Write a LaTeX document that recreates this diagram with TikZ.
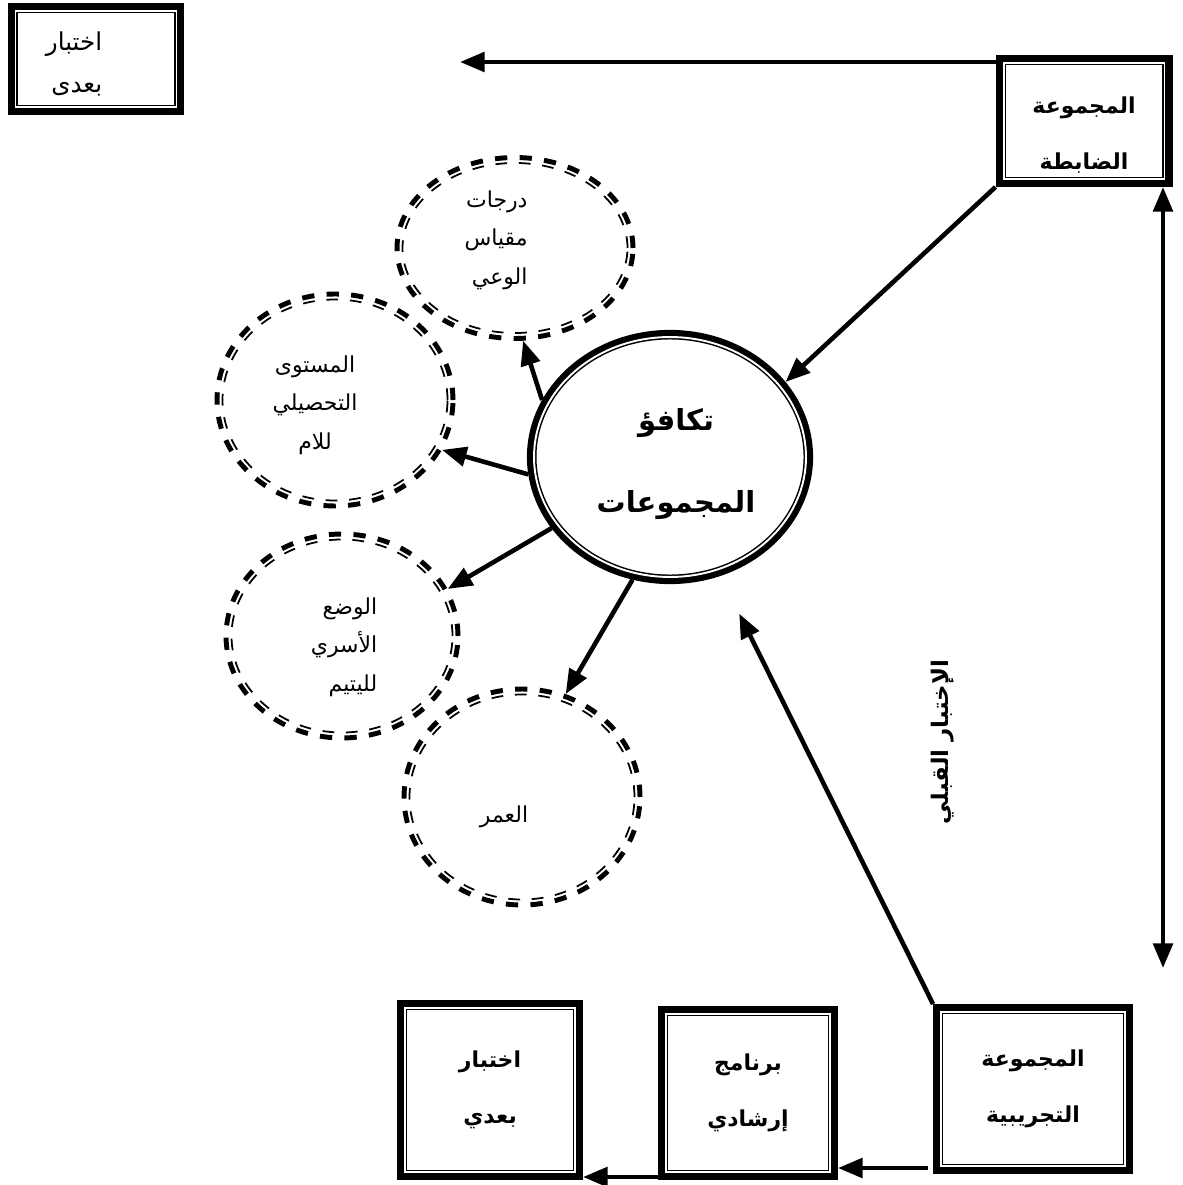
\documentclass[tikz,border=0pt]{standalone}
\usepackage{fontspec}
\usepackage{tikz}
\usetikzlibrary{positioning, arrows.meta, shapes.geometric}
\newfontfamily\arabicfont[Script=Arabic]{DejaVu Sans}
\TeXXeTstate=1
\newcommand{\rtltext}[1]{\beginR #1\endR}

\begin{document}
\begin{tikzpicture}[x=0.02cm, y=-0.02cm,
    box/.style={rectangle, draw, fill=white, double, double distance=1.1pt, line width=0.85pt,
        preaction={draw, line width=9.1pt}, outer sep=4.55pt, align=center, boxtext},
    boxtext/.style={font=\arabicfont\bfseries\fontsize{12.5pt}{32pt}\selectfont},
    hub/.style={ellipse, draw, fill=white, double, double distance=1.1pt, line width=0.85pt,
        preaction={draw, line width=8.1pt}, outer sep=4.05pt},
    hubtext/.style={font=\arabicfont\bfseries\fontsize{16.5pt}{47pt}\selectfont},
    ring/.style={ellipse, draw, line width=2.8pt, dash pattern=on 7pt off 7pt},
    ringtext/.style={font=\arabicfont\fontsize{12.5pt}{22pt}\selectfont},
    arr/.style={line width=2.6pt, -{Triangle[length=14pt, width=11pt]}},
    darr/.style={line width=2.6pt, {Triangle[length=14pt, width=11pt]}-{Triangle[length=14pt, width=11pt]}}
]
\useasboundingbox (0,0) rectangle (1182,1185);

% dashed circles
\node[ring, minimum width=4.72cm, minimum height=3.62cm,
    label={[ringtext, align=right, xshift=-0.38cm, yshift=0.16cm]center:{\rtltext{درجات}\\ \rtltext{مقياس}\\ \rtltext{الوعي}}}] (scale) at (515,248) {};
\node[ring, minimum width=4.72cm, minimum height=4.24cm,
    label={[ringtext, align=center, xshift=-0.4cm, yshift=-0.1cm]center:{\rtltext{المستوى}\\ \rtltext{التحصيلي}\\ \rtltext{للام}}}] (edu) at (335,400) {};
\node[ring, minimum width=4.64cm, minimum height=4.08cm,
    label={[ringtext, align=right, xshift=0.04cm, yshift=-0.22cm]center:{\rtltext{الوضع}\\ \rtltext{الأسري}\\ \rtltext{لليتيم}}}] (family) at (342,636) {};
\node[ring, minimum width=4.72cm, minimum height=4.32cm,
    label={[ringtext, xshift=-0.36cm, yshift=-0.4cm]center:{\rtltext{العمر}}}] (age) at (522,797) {};

\foreach \n/\rx/\ry in {scale/120/92.5, edu/120/108, family/118/104, age/120/110}{
    \pgfmathsetmacro\irx{(\rx-7.5)*0.02}
    \pgfmathsetmacro\iry{(\ry-7.5)*0.02}
    \pgfmathsetmacro\dscale{(\rx+\ry-15)/(\rx+\ry-4.8)}
    \pgfmathsetmacro\don{7*\dscale}
    \pgfmathsetmacro\doff{7*\dscale}
    \draw[line width=1pt, dash pattern=on \don pt off \doff pt] (\n.center) ellipse [x radius=\irx cm, y radius=\iry cm];
}

% centre
\node[hub, minimum width=5.44cm, minimum height=4.8cm,
    label={[hubtext, align=center, xshift=0.12cm, yshift=-0.14cm]center:{\rtltext{تكافؤ}\\ \rtltext{المجموعات}}}] (equiv) at (670,457) {};

% boxes
\node[box, minimum width=3.22cm, minimum height=1.92cm,
    label={[font=\arabicfont\fontsize{14pt}{24pt}\selectfont, align=right, xshift=-0.44cm, yshift=-0.1cm]center:{\rtltext{اختبار}\\ \rtltext{بعدى}}}] (posttop) at (96,59) {};
\node[box, minimum width=3.22cm, minimum height=2.32cm,
    label={[boxtext, align=center, yshift=-0.28cm]center:{\rtltext{المجموعة}\\ \rtltext{الضابطة}}}] (control) at (1084,121) {};
\node[box, minimum width=3.4cm, minimum height=3.28cm] (post) at (490,1090) {\rtltext{اختبار}\\ \rtltext{بعدي}};
\node[box, minimum width=3.28cm, minimum height=3.16cm] (prog) at (748,1093) {\rtltext{برنامج}\\ \rtltext{إرشادي}};
\node[box, minimum width=3.68cm, minimum height=3.08cm] (exp) at (1033,1089) {\rtltext{المجموعة}\\ \rtltext{التجريبية}};

\node[rotate=90, font=\arabicfont\bfseries\fontsize{13pt}{14pt}\selectfont] (pretest) at (943,742) {\rtltext{الإختبار القبلي}};

\coordinate (toptip) at (460,62);
\coordinate (pretip) at (1163,968);
\coordinate (progin) at ([shift={(-3pt,3.4pt)}]exp.south west);
\coordinate (postin) at ([yshift=1.7pt]prog.south west);

% arrows
\draw[arr] (control.west |- toptip) -- (toptip);
\draw[darr] (control.south -| pretip) -- (pretip);
\draw[arr] (control.south west) -- (equiv.33);
\draw[arr, shorten >=24pt] (exp.north west) -- (equiv.-67);
\draw[arr] (equiv.156) -- (scale.-85);
\draw[arr] (equiv.187) -- (edu.-25);
\draw[arr] (equiv.211) -- (family.24);
\draw[arr] (equiv.253) -- (age.67);
\draw[arr] (progin) -- (progin -| prog.east);
\draw[arr] (postin) -- (postin -| post.east);
\end{tikzpicture}
\end{document}
